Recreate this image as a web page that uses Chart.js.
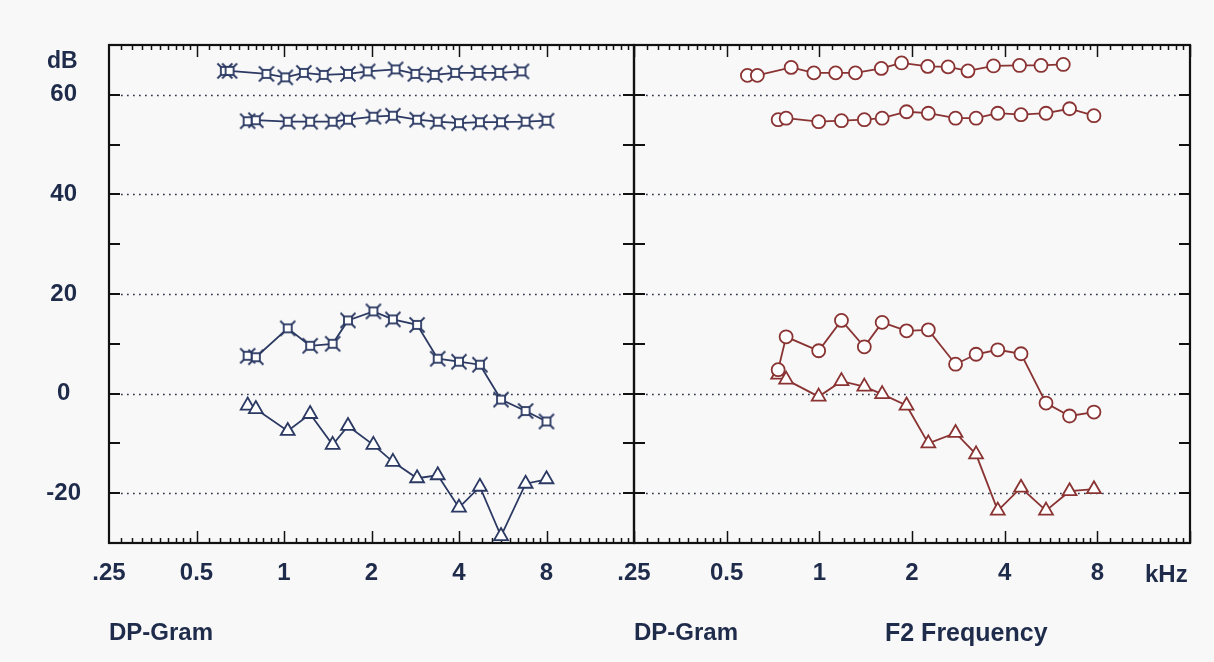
<!DOCTYPE html>
<html>
<head>
<meta charset="utf-8">
<script src="https://cdn.jsdelivr.net/npm/chart.js@4.4.1/dist/chart.umd.min.js"></script>
<style>
  html, body { margin: 0; padding: 0; background: #f8f8f8; }
  #wrap { position: relative; width: 1214px; height: 662px; overflow: hidden; }
  canvas { position: absolute; left: 0; top: 0; }
  .lbl { position: absolute; font: bold 24px 'Liberation Sans', Arial, sans-serif; color: #1f2b4a; line-height: 1; white-space: nowrap; }
</style>
</head>
<body>
<div id="wrap">
  <canvas id="leftChart" width="1214" height="662"></canvas>
  <canvas id="rightChart" width="1214" height="662"></canvas>
  <div class="lbl" style="left:47px; top:49px; font-size:23px;">dB</div>
  <div class="lbl" style="left:1145px; top:562px;">kHz</div>
  <div class="lbl" style="left:885px; top:620px; font-size:25px;">F2 Frequency</div>
</div>
<script>
// axis labels
const xTickValues = [0.25, 0.5, 1, 2, 4, 8];
const xTickLabels = ['.25', '0.5', '1', '2', '4', '8'];
const yLabelValues = [60, 40, 20, 0, -20];
const octaveStarts = [0.25, 0.5, 1, 2, 4, 8];

// left panel (blue)
const leftF1 = [0.626, 0.65, 0.87, 1.01, 1.17, 1.37, 1.66, 1.94, 2.42, 2.83, 3.3, 3.88, 4.67, 5.5, 6.56];
const leftL1 = [64.8, 64.8, 64.2, 63.5, 64.4, 64.0, 64.2, 64.7, 65.1, 64.2, 64.0, 64.4, 64.4, 64.4, 64.7];
const leftF2 = [0.75, 0.8, 1.03, 1.23, 1.47, 1.66, 2.03, 2.37, 2.87, 3.38, 4.0, 4.72, 5.58, 6.78, 8.0];
const leftL2 = [54.7, 54.9, 54.6, 54.6, 54.6, 55.0, 55.6, 55.8, 55.0, 54.6, 54.3, 54.5, 54.5, 54.6, 54.8];
const leftDP = [7.6, 7.3, 13.1, 9.6, 10.0, 14.7, 16.5, 14.9, 13.8, 7.0, 6.4, 5.8, -1.2, -3.5, -5.6];
const leftNoise = [-2.4, -3.1, -7.5, -4.1, -10.3, -6.5, -10.3, -13.7, -17.0, -16.4, -22.9, -18.7, -28.6, -18.1, -17.2];

// right panel (red)
const rightF1 = [0.584, 0.629, 0.81, 0.96, 1.13, 1.31, 1.59, 1.85, 2.25, 2.62, 3.04, 3.68, 4.47, 5.25, 6.2];
const rightL1 = [63.9, 63.9, 65.5, 64.4, 64.4, 64.4, 65.3, 66.4, 65.7, 65.6, 64.8, 65.8, 65.9, 65.9, 66.1];
const rightF2 = [0.735, 0.78, 0.995, 1.18, 1.4, 1.6, 1.92, 2.26, 2.77, 3.23, 3.8, 4.52, 5.45, 6.5, 7.8];
const rightL2 = [55.0, 55.3, 54.6, 54.8, 55.0, 55.3, 56.6, 56.3, 55.3, 55.3, 56.3, 56.0, 56.3, 57.2, 55.8];
const rightDP = [4.8, 11.4, 8.6, 14.7, 9.4, 14.3, 12.6, 12.8, 5.9, 7.9, 8.8, 8.0, -1.9, -4.5, -3.7];
const rightNoise = [3.8, 2.8, -0.6, 2.5, 1.4, -0.1, -2.4, -10.0, -7.9, -12.2, -23.5, -18.9, -23.5, -19.6, -19.2];

const BLUE = '#2b3963';
const RED = '#8a3333';
const TEXT = '#1f2b4a';
const FONT = "'Liberation Sans', Arial, sans-serif";

const pts = (xs, ys) => xs.map((x, i) => ({ x: x, y: ys[i] }));

// square with crossed arms, as in the printout
function starMarker(color) {
    const c = document.createElement('canvas');
    c.width = 18; c.height = 18;
    const g = c.getContext('2d');
    g.strokeStyle = color;
    g.lineWidth = 1.8;
    g.beginPath();
    g.moveTo(1.5, 1.5); g.lineTo(16.5, 16.5);
    g.moveTo(16.5, 1.5); g.lineTo(1.5, 16.5);
    g.stroke();
    g.fillStyle = '#fff';
    g.fillRect(5, 5, 8, 8);
    g.strokeRect(5, 5, 8, 8);
    return c;
}
const star = starMarker(BLUE);

const framePlugin = {
    id: 'frame',
    beforeDatasetsDraw(chart) {
        const { ctx, chartArea: a, scales: { x, y } } = chart;
        ctx.save();

        // dotted grid
        ctx.strokeStyle = '#2f3447';
        ctx.lineWidth = 1.7;
        ctx.setLineDash([1.7, 4.3]);
        yLabelValues.forEach(v => {
            const py = Math.round(y.getPixelForValue(v)) + 0.5;
            ctx.beginPath();
            ctx.moveTo(a.left + 12, py);
            ctx.lineTo(a.right - 12, py);
            ctx.stroke();
        });
        ctx.setLineDash([]);

        // y ticks, inside on both sides
        ctx.strokeStyle = '#111';
        ctx.lineWidth = 2;
        for (let v = -20; v <= 60; v += 10) {
            const py = Math.round(y.getPixelForValue(v));
            ctx.beginPath();
            ctx.moveTo(a.left, py); ctx.lineTo(a.left + 11, py);
            ctx.moveTo(a.right, py); ctx.lineTo(a.right - 11, py);
            ctx.stroke();
        }

        // x ticks top and bottom
        ctx.lineWidth = 1.5;
        octaveStarts.forEach(f0 => {
            for (let k = 1; k <= 10; k++) {
                const px = Math.round(x.getPixelForValue(f0 * (1 + k / 10))) + 0.5;
                const len = k === 10 ? 12 : 5;
                ctx.beginPath();
                ctx.moveTo(px, a.bottom); ctx.lineTo(px, a.bottom - len);
                ctx.moveTo(px, a.top); ctx.lineTo(px, a.top + len);
                ctx.stroke();
            }
        });

        ctx.lineWidth = 2.2;
        ctx.strokeRect(a.left, a.top, a.right - a.left, a.bottom - a.top);
        ctx.restore();
    }
};

function makeChart(id, opts) {
    const color = opts.color;
    const lineSet = (data, style) => Object.assign({
        data: data,
        borderColor: color,
        borderWidth: 1.8,
        pointBorderColor: color,
        pointBackgroundColor: '#fff',
        pointBorderWidth: 1.8,
        tension: 0,
        clip: false
    }, style);

    new Chart(document.getElementById(id), {
        type: 'line',
        data: {
            datasets: [
                lineSet(pts(opts.f1, opts.l1), opts.levelStyle),
                lineSet(pts(opts.f2, opts.l2), opts.levelStyle),
                lineSet(pts(opts.f2, opts.dp), opts.levelStyle),
                lineSet(pts(opts.f2, opts.noise), { pointStyle: 'triangle', pointRadius: 8 })
            ]
        },
        options: {
            responsive: false,
            animation: false,
            devicePixelRatio: 1,
            layout: { padding: { left: opts.padLeft, right: opts.padRight, top: 45, bottom: 0 } },
            plugins: { legend: { display: false }, tooltip: { enabled: false } },
            scales: {
                x: {
                    type: 'logarithmic',
                    position: 'bottom',
                    min: 0.25,
                    max: 16,
                    afterBuildTicks: s => { s.ticks = xTickValues.map(v => ({ value: v })); },
                    afterFit: s => { s.height = 119; },
                    grid: { display: false, drawTicks: false },
                    border: { display: false },
                    ticks: {
                        autoSkip: false,
                        maxRotation: 0,
                        padding: 16,
                        color: TEXT,
                        font: { family: FONT, size: 24, weight: 'bold' },
                        callback: (v, i) => xTickLabels[i]
                    },
                    title: {
                        display: true,
                        text: 'DP-Gram',
                        align: 'start',
                        color: TEXT,
                        font: { family: FONT, size: 24, weight: 'bold' },
                        padding: { top: 0, bottom: 14 }
                    }
                },
                y: {
                    type: 'linear',
                    min: -30,
                    max: 70,
                    afterFit: s => { s.width = opts.yWidth; },
                    grid: { display: false, drawTicks: false },
                    border: { display: false },
                    ticks: {
                        display: opts.yLabels,
                        stepSize: 10,
                        crossAlign: 'center',
                        padding: 28,
                        color: TEXT,
                        font: { family: FONT, size: 24, weight: 'bold' },
                        callback: v => yLabelValues.includes(v) ? String(v) : ''
                    }
                }
            }
        },
        plugins: [framePlugin]
    });
}

makeChart('leftChart', {
    color: BLUE,
    f1: leftF1, l1: leftL1, f2: leftF2, l2: leftL2, dp: leftDP, noise: leftNoise,
    levelStyle: { pointStyle: star },
    padLeft: 0, padRight: 1214 - 634, yWidth: 109, yLabels: true
});

makeChart('rightChart', {
    color: RED,
    f1: rightF1, l1: rightL1, f2: rightF2, l2: rightL2, dp: rightDP, noise: rightNoise,
    levelStyle: { pointStyle: 'circle', pointRadius: 6.5 },
    padLeft: 634, padRight: 1214 - 1190, yWidth: 0, yLabels: false
});
</script>
</body>
</html>
